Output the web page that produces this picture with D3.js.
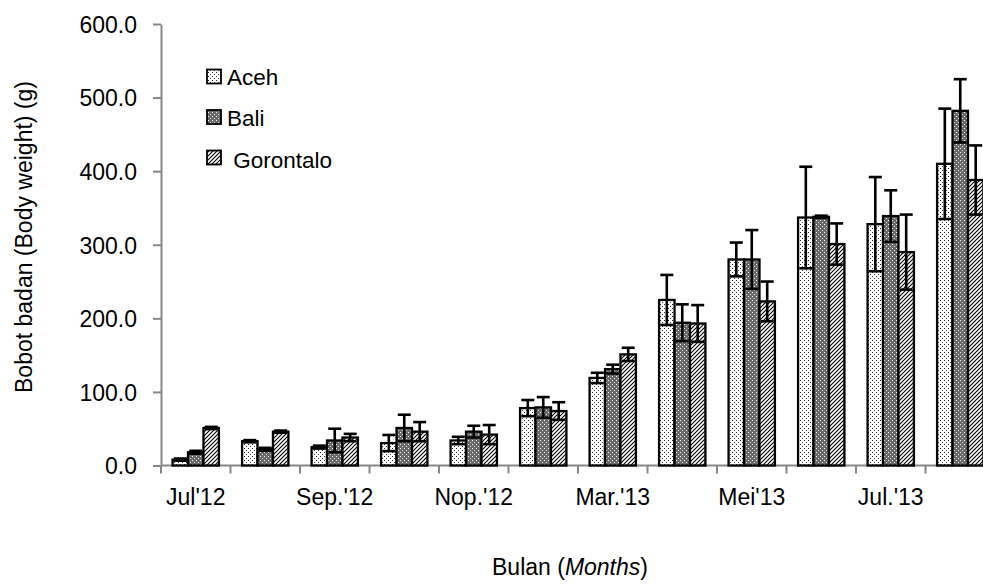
<!DOCTYPE html>
<html>
<head>
<meta charset="utf-8">
<script src="https://cdn.jsdelivr.net/npm/d3@7"></script>
<style>
  html, body { margin: 0; padding: 0; background: #fff; overflow: hidden; }
  svg { display: block; font-family: "Liberation Sans", Arial, sans-serif; }
</style>
</head>
<body>
<svg id="chart" width="983" height="585"></svg>
<script>
// ---- data ----
const categories = ["Jul'12", "Agt'12", "Sep.'12", "Okt.'12", "Nop.'12", "Des.'12",
                    "Mar.'13", "Apr.'13", "Mei'13", "Jun.'13", "Jul.'13", "Agt.'13"];
const shownLabels = ["Jul'12", "Sep.'12", "Nop.'12", "Mar.'13", "Mei'13", "Jul.'13"];
const seriesNames = ["Aceh", "Bali", " Gorontalo"];
const acehValues = [8, 33, 25, 30.5, 34, 78, 119, 225, 280, 337, 328, 410];
const acehErrors = [1.5, 1.5, 2, 11, 5, 11, 7, 34, 23, 69, 64, 75];
const baliValues = [18, 22, 34, 51, 46, 79, 131, 194, 280, 338, 339, 482];
const baliErrors = [2, 2, 16, 18, 8, 14, 6, 25, 40, 1.5, 35, 43];
const gorValues = [51, 46, 38, 46, 42, 74, 151, 193, 223, 301, 290, 388];
const gorErrors = [1.5, 1.5, 5, 13, 13, 12, 9, 25, 27, 28, 51, 47];
const yTicks = [0, 100, 200, 300, 400, 500, 600];

const series = [
  { name: seriesNames[0], values: acehValues, errors: acehErrors, fill: "url(#pAceh)" },
  { name: seriesNames[1], values: baliValues, errors: baliErrors, fill: "url(#pBali)" },
  { name: seriesNames[2], values: gorValues, errors: gorErrors, fill: "url(#pGor)" }
];

const svg = d3.select("#chart");
const axisColor = "#878787";

// ---- patterns ----
const defs = svg.append("defs");
const pA = defs.append("pattern").attr("id", "pAceh").attr("patternUnits", "userSpaceOnUse")
  .attr("width", 4).attr("height", 4);
pA.append("rect").attr("width", 4).attr("height", 4).attr("fill", "#fff");
pA.append("rect").attr("x", 0).attr("y", 0).attr("width", 1).attr("height", 1).attr("fill", "#222");
pA.append("rect").attr("x", 2).attr("y", 2).attr("width", 1).attr("height", 1).attr("fill", "#444");

const pB = defs.append("pattern").attr("id", "pBali").attr("patternUnits", "userSpaceOnUse")
  .attr("width", 4).attr("height", 4);
pB.append("rect").attr("width", 4).attr("height", 4).attr("fill", "#6a6a6a");
pB.append("rect").attr("x", 0).attr("y", 0).attr("width", 1).attr("height", 1).attr("fill", "#fff");
pB.append("rect").attr("x", 2).attr("y", 2).attr("width", 1).attr("height", 1).attr("fill", "#ddd");

const pG = defs.append("pattern").attr("id", "pGor").attr("patternUnits", "userSpaceOnUse")
  .attr("width", 4).attr("height", 4);
pG.append("rect").attr("width", 4).attr("height", 4).attr("fill", "#fff");
pG.append("path").attr("d", "M-1,1 L1,-1 M0,4 L4,0 M3,5 L5,3")
  .attr("stroke", "#000").attr("stroke-width", 1.1);

// ---- scales ----
const plotLeft = 161, bandW = 69.5;
const x = d3.scaleBand().domain(categories)
  .range([plotLeft, plotLeft + bandW * categories.length]).padding(0);
const xs = d3.scaleBand().domain(d3.range(series.length))
  .range([0, x.bandwidth()]).paddingInner(0).paddingOuter(0.75);
const y = d3.scaleLinear().domain([0, 600]).range([465.5, 24]);

// ---- axes ----
const yAxis = svg.append("g").attr("transform", `translate(${plotLeft},0)`)
  .call(d3.axisLeft(y).tickValues(yTicks).tickSize(8).tickSizeOuter(0).tickFormat(d3.format(".1f")));
yAxis.select(".domain").attr("stroke", axisColor).attr("stroke-width", 2);
yAxis.selectAll(".tick line").attr("stroke", axisColor).attr("stroke-width", 2);
yAxis.selectAll(".tick text").attr("font-size", 23).attr("fill", "#000")
  .attr("x", -24).attr("dy", "0.36em").attr("font-family", "Liberation Sans, Arial, sans-serif");

// x axis line + boundary ticks
const xAxisG = svg.append("g");
xAxisG.append("line").attr("x1", plotLeft).attr("x2", 990)
  .attr("y1", y(0)).attr("y2", y(0)).attr("stroke", axisColor).attr("stroke-width", 2);
xAxisG.selectAll("line.tk").data(categories).join("line").attr("class", "tk")
  .attr("x1", d => x(d)).attr("x2", d => x(d))
  .attr("y1", y(0)).attr("y2", y(0) + 8)
  .attr("stroke", axisColor).attr("stroke-width", 2);
xAxisG.selectAll("text").data(shownLabels).join("text")
  .attr("x", d => x(d) + x.bandwidth() / 2).attr("y", 505)
  .attr("text-anchor", "middle").attr("font-size", 23).attr("fill", "#000")
  .text(d => d);

// ---- bars ----
const barsG = svg.append("g");
series.forEach((s, si) => {
  barsG.append("g").selectAll("rect").data(categories).join("rect")
    .attr("x", d => x(d) + xs(si))
    .attr("width", xs.bandwidth())
    .attr("y", (d, i) => y(s.values[i]))
    .attr("height", (d, i) => y(0) - y(s.values[i]))
    .attr("fill", s.fill).attr("stroke", "#000").attr("stroke-width", 2.3);
});

// ---- error bars ----
const capW = 13;
const errG = svg.append("g").attr("stroke", "#000").attr("stroke-width", 2.6).attr("fill", "none");
series.forEach((s, si) => {
  const g = errG.append("g");
  categories.forEach((c, i) => {
    const cx = x(c) + xs(si) + xs.bandwidth() / 2;
    const top = y(s.values[i] + s.errors[i]);
    const bot = y(Math.max(0, s.values[i] - s.errors[i]));
    g.append("line").attr("x1", cx).attr("x2", cx).attr("y1", top).attr("y2", bot);
    g.append("line").attr("x1", cx - capW / 2).attr("x2", cx + capW / 2).attr("y1", top).attr("y2", top);
    g.append("line").attr("x1", cx - capW / 2).attr("x2", cx + capW / 2).attr("y1", bot).attr("y2", bot);
  });
});

// ---- legend ----
const legendTop = [69.5, 110, 150.5];
const legendBase = [85, 125.5, 168];
const leg = svg.append("g");
series.forEach((s, si) => {
  leg.append("rect").attr("x", 207).attr("y", legendTop[si])
    .attr("width", 14).attr("height", 14)
    .attr("fill", s.fill).attr("stroke", "#000").attr("stroke-width", 1.8);
  leg.append("text").attr("x", 227).attr("y", legendBase[si])
    .attr("font-size", 22.5).attr("fill", "#000")
    .style("white-space", "pre").text(s.name);
});

// ---- axis titles ----
svg.append("text").attr("transform", "translate(32,237) rotate(-90)")
  .attr("text-anchor", "middle").attr("font-size", 23).attr("fill", "#000")
  .text("Bobot badan (Body weight) (g)");
const xt = svg.append("text").attr("x", 570).attr("y", 575)
  .attr("text-anchor", "middle").attr("font-size", 23).attr("fill", "#000");
xt.append("tspan").text("Bulan (");
xt.append("tspan").attr("font-style", "italic").text("Months");
xt.append("tspan").text(")");
</script>
</body>
</html>
